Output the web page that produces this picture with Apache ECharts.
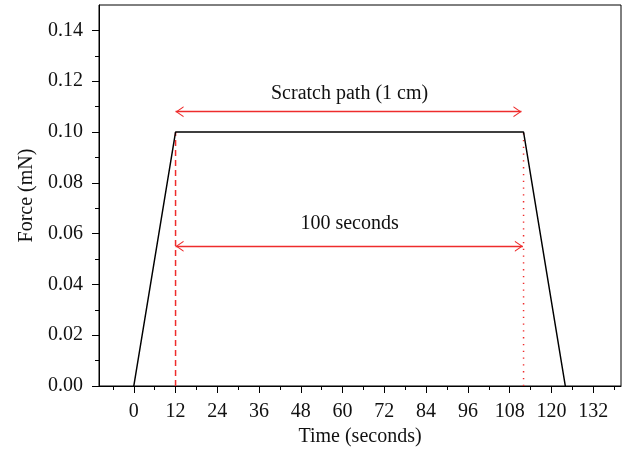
<!DOCTYPE html>
<html><head><meta charset="utf-8">
<script src="https://cdn.jsdelivr.net/npm/echarts@6/dist/echarts.min.js"></script>
<style>html,body{margin:0;padding:0;background:#fff}#c{width:623px;height:455px}</style>
</head><body><div id="c"></div>
<script>
// ---- data ----
const timeX = [0, 12, 112, 124];
const forceY = [0, 0.10, 0.10, 0];
const xTickLabels = [0, 12, 24, 36, 48, 60, 72, 84, 96, 108, 120, 132];
const xMinorTicks = [-6, 6, 18, 30, 42, 54, 66, 78, 90, 102, 114, 126, 138];
const yTickLabels = [0, 0.02, 0.04, 0.06, 0.08, 0.10, 0.12, 0.14];
const yMinorTicks = [0.01, 0.03, 0.05, 0.07, 0.09, 0.11, 0.13];
const markerStart = 12;
const markerEnd = 112;
const markerTop = 0.10;
const arrowYs = [0.108, 0.055];
const arrowEnds = [111.4, 111.8];
const noteTexts = ['Scratch path (1 cm)', '100 seconds'];
const noteX = [62, 62];
const noteY = [0.1152, 0.064];

const FONT = "'Liberation Serif', 'Times New Roman', serif";
const RED = '#ee2c2c';
const chevron = 'path://M0,10 L5,0 L10,10 L8.9,10 L5,2.2 L1.1,10 Z M5,-10 L5.01,-10 L5.01,-9.99 Z';

const chart = echarts.init(document.getElementById('c'), null, {renderer: 'canvas'});
const txt = {fontFamily: FONT, fontSize: 20, color: '#111'};

const arrowLines = arrowYs.map((y, i) => [
  {coord: [markerStart, y]},
  {coord: [arrowEnds[i], y]}
]);

chart.setOption({
  animation: false,
  backgroundColor: '#fff',
  grid: {left: 99, top: 5, right: 2, bottom: 69, show: true, borderColor: '#000', borderWidth: 1, backgroundColor: 'transparent'},
  xAxis: [{
    type: 'value', min: -10, max: 140, position: 'bottom',
    name: 'Time (seconds)', nameLocation: 'middle', nameGap: 39,
    nameTextStyle: txt,
    axisLine: {show: true, onZero: false, lineStyle: {color: '#000', width: 1}},
    axisTick: {show: true, inside: false, length: 7, customValues: xTickLabels, lineStyle: {color: '#000', width: 1}},
    axisLabel: Object.assign({show: true, margin: 16, customValues: xTickLabels, formatter: v => String(v)}, txt),
    splitLine: {show: false}
  }, {
    type: 'value', min: -10, max: 140, position: 'bottom',
    axisLine: {show: false, onZero: false},
    axisTick: {show: true, inside: false, length: 4, customValues: xMinorTicks, lineStyle: {color: '#000', width: 1}},
    axisLabel: {show: false},
    splitLine: {show: false}
  }],
  yAxis: [{
    type: 'value', min: 0, max: 0.15, position: 'left',
    name: 'Force (mN)', nameLocation: 'middle', nameGap: 62, nameRotate: 90,
    nameTextStyle: txt,
    axisLine: {show: true, onZero: false, lineStyle: {color: '#000', width: 1}},
    axisTick: {show: true, inside: false, length: 7, customValues: yTickLabels, lineStyle: {color: '#000', width: 1}},
    axisLabel: Object.assign({show: true, margin: 16, customValues: yTickLabels, formatter: v => v.toFixed(2)}, txt),
    splitLine: {show: false}
  }, {
    type: 'value', min: 0, max: 0.15, position: 'left',
    axisLine: {show: false, onZero: false},
    axisTick: {show: true, inside: false, length: 4, customValues: yMinorTicks, lineStyle: {color: '#000', width: 1}},
    axisLabel: {show: false},
    splitLine: {show: false}
  }],
  series: [
    {
      type: 'line', name: 'dashed', xAxisIndex: 0, yAxisIndex: 0,
      data: [[markerStart, 0], [markerStart, markerTop]],
      symbol: 'none', silent: true,
      lineStyle: {color: RED, width: 1.5, type: [6, 4]}
    },
    {
      type: 'line', name: 'dotted', xAxisIndex: 0, yAxisIndex: 0,
      data: [[markerEnd, 0], [markerEnd, markerTop]],
      symbol: 'none', silent: true,
      lineStyle: {color: RED, width: 1.5, type: [1.3, 5.5]}
    },
    {
      type: 'line', name: 'force', xAxisIndex: 0, yAxisIndex: 0,
      data: timeX.map((x, i) => [x, forceY[i]]),
      symbol: 'none', silent: true,
      lineStyle: {color: '#000', width: 1.5}
    },
    {
      type: 'scatter', name: 'notes', xAxisIndex: 0, yAxisIndex: 0,
      symbolSize: 1, silent: true,
      itemStyle: {color: 'rgba(0,0,0,0)', opacity: 1},
      data: noteTexts.map((t, i) => ({name: t, value: [noteX[i], noteY[i]]})),
      label: Object.assign({show: true, position: 'inside', formatter: '{b}', opacity: 1, textBorderWidth: 0, textShadowBlur: 0}, txt),
      markLine: {
        silent: true, animation: false,
        symbol: [chevron, chevron], symbolSize: [11, 16],
        label: {show: false},
        lineStyle: {color: RED, width: 1.3, type: 'solid'},
        emphasis: {disabled: true},
        data: arrowLines
      }
    }
  ]
});
</script>
</body></html>
